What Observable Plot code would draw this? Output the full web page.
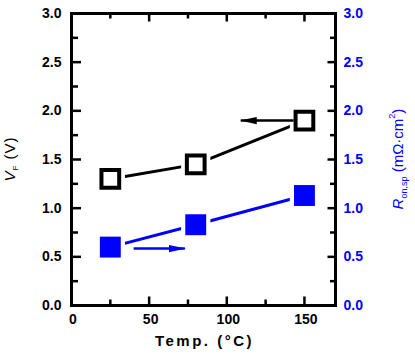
<!DOCTYPE html>
<html>
<head>
<meta charset="utf-8">
<script src="https://cdn.jsdelivr.net/npm/d3@7"></script>
<script src="https://cdn.jsdelivr.net/npm/@observablehq/plot@0.6"></script>
<style>
  body { margin: 0; background: #fff; }
  #chart svg { display: block; }
</style>
</head>
<body>
<div id="chart"></div>
<script>
// ---- data ----
const temps = [25, 80, 150];
const vf = [1.3, 1.45, 1.9];          // left axis, V
const ron = [0.6, 0.83, 1.13];        // right axis, mΩ·cm²
const xMajor = [0, 50, 100, 150];
const xMinor = [25, 75, 125];
const yMajor = [0, 0.5, 1.0, 1.5, 2.0, 2.5, 3.0];
const yMinor = [0.25, 0.75, 1.25, 1.75, 2.25, 2.75];
// annotation arrows
const arrows = [
  {x1: 143, y1: 1.9, x2: 109, y2: 1.9, c: "black"},
  {x1: 40, y1: 0.585, x2: 73, y2: 0.585, c: "#0000ff"}
];

const vfData = temps.map((t, i) => ({t, v: vf[i]}));
const ronData = temps.map((t, i) => ({t, v: ron[i]}));

const W = 415, H = 356;
const mL = 71, mR = 80, mT = 13, mB = 51;
const pw = W - mL - mR, ph = H - mT - mB;
const xMax = 170, yMax = 3;
const tickFont = {fontSize: 14, fontWeight: "bold", letterSpacing: "3px"};

// pixel length -> data units
const px2x = (p) => p * xMax / pw;
const px2y = (p) => p * yMax / ph;

function filledArrow(color) {
  const m = d3.create("svg:marker")
    .attr("viewBox", "-16 -4 17 8")
    .attr("markerWidth", 17).attr("markerHeight", 8)
    .attr("refX", 0).attr("refY", 0)
    .attr("orient", "auto")
    .attr("markerUnits", "userSpaceOnUse")
    .attr("fill", color).attr("stroke", "none");
  m.append("path").attr("d", "M-16,-3.6L1,0L-16,3.6Z");
  return m.node();
}

const rs = {stroke: "black", strokeWidth: 2.5};

const plot = Plot.plot({
  width: W, height: H,
  marginLeft: mL, marginRight: mR, marginTop: mT, marginBottom: mB,
  style: {fontFamily: "Liberation Sans, Arial, sans-serif", color: "black", background: "white", overflow: "visible"},
  x: {domain: [0, xMax], axis: null},
  y: {domain: [0, yMax], axis: null},
  marks: [
    // data lines
    Plot.line(vfData, {x: "t", y: "v", stroke: "black", strokeWidth: 3}),
    Plot.line(ronData, {x: "t", y: "v", stroke: "#0000ff", strokeWidth: 3}),
    // white halos to create gaps
    Plot.dot(vfData, {x: "t", y: "v", symbol: "square", r: 16.5, fill: "white", stroke: null}),
    Plot.dot(ronData, {x: "t", y: "v", symbol: "square", r: 16.5, fill: "white", stroke: null}),
    // symbols
    Plot.dot(vfData, {x: "t", y: "v", symbol: "square", r: 10, fill: "white", stroke: "black", strokeWidth: 4}),
    Plot.dot(ronData, {x: "t", y: "v", symbol: "square", r: 11.8, fill: "#0000ff", stroke: null}),
    // arrows
    Plot.link(arrows, {x1: "x1", y1: "y1", x2: "x2", y2: "y2", stroke: "c", strokeWidth: 2.5, markerEnd: filledArrow}),
    // inward ticks
    Plot.ruleY(yMajor, {y: d => d, x1: 0, x2: px2x(10), ...rs}),
    Plot.ruleY(yMinor, {y: d => d, x1: 0, x2: px2x(7), ...rs}),
    Plot.ruleY(yMajor, {y: d => d, x1: xMax - px2x(7.5), x2: xMax, ...rs}),
    Plot.ruleY(yMinor, {y: d => d, x1: xMax - px2x(5), x2: xMax, ...rs}),
    Plot.ruleX(xMajor, {x: d => d, y1: 0, y2: px2y(8.5), ...rs}),
    Plot.ruleX(xMinor, {x: d => d, y1: 0, y2: px2y(5.5), ...rs}),
    Plot.ruleX(xMajor, {x: d => d, y1: yMax - px2y(8.5), y2: yMax, ...rs}),
    Plot.ruleX(xMinor, {x: d => d, y1: yMax - px2y(5.5), y2: yMax, ...rs}),
    // frame
    Plot.frame({stroke: "black", strokeWidth: 3}),
    // tick labels
    Plot.axisY({anchor: "left", ticks: yMajor, tickSize: 0, tickPadding: 10, tickFormat: d3.format(".1f"), label: null, fill: "black", ...tickFont}),
    Plot.axisY({anchor: "right", ticks: yMajor, tickSize: 0, tickPadding: 8, tickFormat: d3.format(".1f"), label: null, fill: "#0000ff", ...tickFont}),
    Plot.axisX({anchor: "bottom", ticks: xMajor, tickSize: 0, tickPadding: 9, tickFormat: d3.format("d"), label: null, fill: "black", dx: 1.5, ...tickFont})
  ]
});

document.getElementById("chart").appendChild(plot);

// axis titles with sub/superscripts
const svg = d3.select(plot);
const cy = (mT + (H - mB)) / 2;

// bottom title
svg.append("text")
  .attr("x", (mL + (W - mR)) / 2 + 1.5).attr("y", H - 10)
  .attr("text-anchor", "middle")
  .attr("font-family", "Liberation Sans, Arial, sans-serif")
  .attr("font-size", 15).attr("font-weight", "bold")
  .attr("letter-spacing", "2.5px").attr("fill", "black")
  .text("Temp. (°C)");

// left title: V_F (V)
const lt = svg.append("text")
  .attr("transform", `translate(15,${cy}) rotate(-90)`)
  .attr("text-anchor", "middle")
  .attr("font-family", "Liberation Sans, Arial, sans-serif")
  .attr("font-size", 15).attr("letter-spacing", "1px").attr("fill", "black");
lt.append("tspan").attr("font-style", "italic").text("V");
lt.append("tspan").attr("font-size", 8).attr("dy", 3).text("F");
lt.append("tspan").attr("dy", -3).text(" (V)");

// right title: R_on,sp (mΩ·cm²)
const rt = svg.append("text")
  .attr("transform", `translate(403,${cy}) rotate(-90)`)
  .attr("text-anchor", "middle")
  .attr("font-family", "Liberation Sans, Arial, sans-serif")
  .attr("font-size", 15).attr("fill", "#0000ff");
rt.append("tspan").attr("font-style", "italic").text("R");
rt.append("tspan").attr("font-size", 9).attr("dy", 4).text("on,sp");
rt.append("tspan").attr("dy", -4).text(" (mΩ·cm");
rt.append("tspan").attr("font-size", 9).attr("dy", -8).text("2");
rt.append("tspan").attr("dy", 8).text(")");
</script>
</body>
</html>
